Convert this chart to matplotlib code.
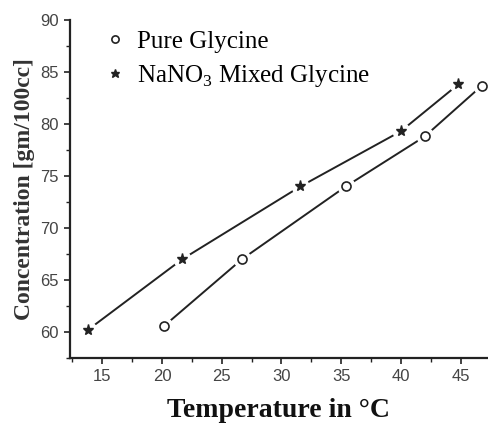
import matplotlib.pyplot as plt
from matplotlib.ticker import MultipleLocator

plt.rcParams['mathtext.fontset'] = 'custom'
plt.rcParams['mathtext.rm'] = 'Liberation Serif'

temp_pure = [20.2, 26.7, 35.4, 42.0, 46.8]
conc_pure = [60.6, 67.0, 74.0, 78.8, 83.7]
temp_mixed = [13.8, 21.7, 31.6, 40.0, 44.8]
conc_mixed = [60.2, 67.0, 74.0, 79.3, 83.8]

fig = plt.figure(figsize=(4.88, 4.25), dpi=100)
ax = fig.add_axes([0.1434, 0.1576, 0.8566, 0.7954])

ink = '#222222'

# lines with small gaps round the markers (white halo under each marker)
ax.plot(temp_pure, conc_pure, '-', color=ink, lw=1.4, zorder=1)
ax.plot(temp_mixed, conc_mixed, '-', color=ink, lw=1.4, zorder=1)
ax.plot(temp_pure, conc_pure, 'o', ms=12, color='white', zorder=2)
ax.plot(temp_mixed, conc_mixed, 'o', ms=12, color='white', zorder=2)
ax.plot(temp_pure, conc_pure, 'o', ms=6.5, mfc='white', mec=ink, mew=1.2, zorder=3,
        label='Pure Glycine')
ax.plot(temp_mixed, conc_mixed, '*', ms=8, color=ink, zorder=3,
        label='NaNO$_3$ Mixed Glycine')

ax.set_xlim(12.3, 47.3)
ax.set_ylim(57.5, 90)
ax.xaxis.set_major_locator(MultipleLocator(5))
ax.xaxis.set_minor_locator(MultipleLocator(2.5))
ax.yaxis.set_major_locator(MultipleLocator(5))
ax.yaxis.set_minor_locator(MultipleLocator(2.5))

for s in ['top', 'right']:
    ax.spines[s].set_visible(False)
for s in ['left', 'bottom']:
    ax.spines[s].set_linewidth(1.6)
    ax.spines[s].set_color(ink)

ax.tick_params(which='major', direction='out', length=4, width=1.2, color=ink,
               labelsize=12, labelcolor='#444444', pad=4)
ax.tick_params(which='minor', direction='out', length=3, width=1.0, color=ink)
for lab in ax.get_xticklabels() + ax.get_yticklabels():
    lab.set_family('Liberation Sans')

ax.set_xlabel('Temperature in °C', family='Liberation Serif',
              fontsize=20, fontweight='bold', color='#111111', labelpad=10)
ax.set_ylabel('Concentration [gm/100cc]', family='Liberation Serif',
              fontsize=17, fontweight='bold', color='#333333', labelpad=4)

leg = ax.legend(loc='upper left', bbox_to_anchor=(0.04, 1.035), frameon=False,
                prop={'family': 'Liberation Serif', 'size': 18},
                handlelength=0.5, handletextpad=0.6, labelspacing=0.4,
                markerscale=0.8)

fig.savefig('out.png', dpi=100)
